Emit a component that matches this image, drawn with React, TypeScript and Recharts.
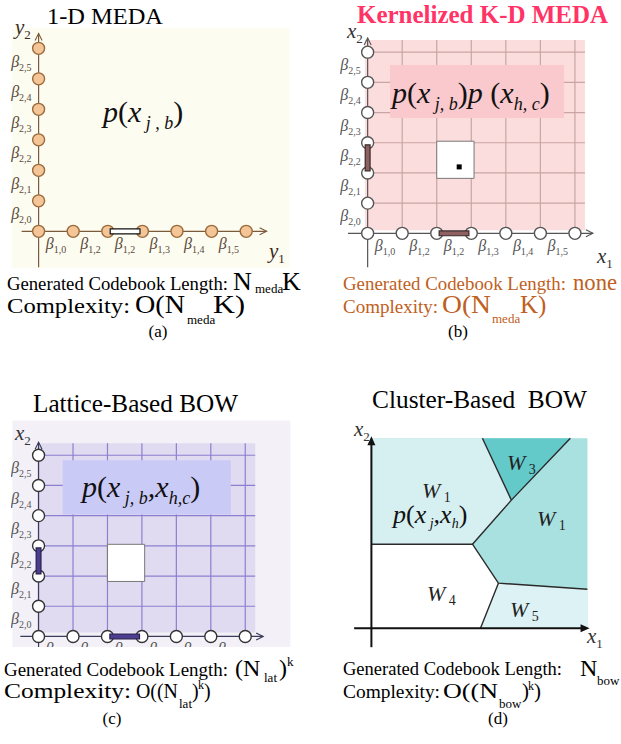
import React from "react";
import {
  ComposedChart,
  XAxis,
  YAxis,
  Scatter,
  Line,
  Area,
  ReferenceLine,
  ReferenceArea,
} from "recharts";

const SERIF = '"Liberation Serif", "Times New Roman", serif';

// lattice panels (a)-(c): bin edges on each axis
const gridIndex = [0, 1, 2, 3, 4, 5, 6];
const xBetaSubs = ["1,0", "1,2", "1,2", "1,3", "1,4", "1,5"];
const yBetaSubs = ["2,0", "2,1", "2,2", "2,3", "2,4", "2,5"];
const pickedBin = [2, 3];
const kernelPoint = [{ x: 2.65, y: 2.2 }];

// cluster panel (d): cell boundaries, feature box is 0..100 on both axes
const w4Top = [
  { x: 0, y: 44.2 },
  { x: 46.8, y: 44.2 },
  { x: 58.8, y: 23.7 },
];
const w5Top = [
  { x: 50.5, y: 0 },
  { x: 58.8, y: 23.7 },
  { x: 100, y: 20.5 },
];
const w1Bottom = [
  { x: 0, y: 44.2 },
  { x: 46.8, y: 44.2 },
  { x: 64.8, y: 67.4 },
  { x: 92.1, y: 100 },
];
const w3Bottom = [
  { x: 51.4, y: 100 },
  { x: 64.8, y: 67.4 },
  { x: 92.1, y: 100 },
];
const cellEdges = [
  [
    { x: 51.4, y: 100 },
    { x: 64.8, y: 67.4 },
  ],
  [
    { x: 92.1, y: 100 },
    { x: 64.8, y: 67.4 },
    { x: 46.8, y: 44.2 },
  ],
  [
    { x: 0, y: 44.2 },
    { x: 46.8, y: 44.2 },
    { x: 58.8, y: 23.7 },
    { x: 100, y: 20.5 },
  ],
  [
    { x: 58.8, y: 23.7 },
    { x: 50.5, y: 0 },
  ],
];

const panelA = {
  ox: 39, oy: 231, sx: 34.6, sy: 30.5,
  xd: [-1, 7.5], yd: [-1.5, 6.7],
  axisX: [-0.49, 6.59], axisY: [-1.18, 6.49],
  frame: { x: [-0.78, 7.25], y: [-1.21, 6.66], fill: "#fdfcf1" },
  axisColor: "#7c5b3b", dotFill: "#f3c597", dotStroke: "#9c6b3c",
  labelColor: "#5a4a3a",
  bar: { fill: "#ffffff", stroke: "#111" },
};

const panelB = {
  ox: 367.7, oy: 233.3, sx: 34.55, sy: 30.2,
  xd: [-0.8, 6.9], yd: [-1.5, 6.7],
  axisX: [-0.57, 6.52], axisY: [-1.12, 6.47],
  plot: { x: [-0.08, 6.29], y: [0.1, 6.4], fill: "#fcdddd", grid: "#c9a5a5" },
  box: { x: [0.65, 5.68], y: [3.82, 5.57], fill: "#f9c9cd" },
  square: true, kernel: true,
  axisColor: "#555", dotFill: "#ffffff", dotStroke: "#555",
  labelColor: "#555",
  bar: { fill: "#8f6060", stroke: "#3a2a2a", vertical: true },
};

const panelC = {
  ox: 38.3, oy: 636, sx: 34.45, sy: 30.2,
  xd: [-0.8, 7.35], yd: [-0.36, 7.2],
  axisX: [-0.53, 6.52], axisY: [-0.4, 6.43],
  frame: { x: [-0.76, 7.31], y: [-0.4, 7.15], fill: "#f3f1f7" },
  plot: { x: [-0.04, 6.29], y: [0.13, 6.4], fill: "#e0dbf0", grid: "#8b80d0" },
  box: { x: [0.7, 5.58], y: [4.04, 5.83], fill: "#cacaf6" },
  square: true,
  axisColor: "#3a3a5a", dotFill: "#ffffff", dotStroke: "#333",
  labelColor: "#555",
  bar: { fill: "#4b3d8f", stroke: "#2a2050", vertical: true },
};

const circleShape = (fill, stroke) => (props) => (
  <circle cx={props.cx} cy={props.cy} r={6} fill={fill} stroke={stroke} strokeWidth={1.4} />
);

const openArrow = (color) => (props) => {
  const { cx, cy, payload } = props;
  const d =
    payload.dir === "r"
      ? `M${cx - 7},${cy - 3.5}L${cx},${cy}L${cx - 7},${cy + 3.5}`
      : `M${cx - 3.5},${cy + 7}L${cx},${cy}L${cx + 3.5},${cy + 7}`;
  return <path d={d} fill="none" stroke={color} strokeWidth={1.1} />;
};

const solidArrow = (props) => {
  const { cx, cy, payload } = props;
  const d =
    payload.dir === "r"
      ? `M${cx},${cy}L${cx - 9},${cy - 4}L${cx - 9},${cy + 4}Z`
      : `M${cx},${cy}L${cx - 4},${cy + 9}L${cx + 4},${cy + 9}Z`;
  return <path d={d} fill="#111" />;
};

const betaX = (color) => (props) => (
  <text x={props.cx} y={props.cy + 18} textAnchor="middle" fontFamily={SERIF} fill={color}>
    <tspan fontSize={16} fontStyle="italic">β</tspan>
    <tspan fontSize={10} dy={4}>{props.payload.sub}</tspan>
  </text>
);

const betaY = (color) => (props) => (
  <text x={props.cx - 7} y={props.cy + 3} textAnchor="end" fontFamily={SERIF} fill={color}>
    <tspan fontSize={16} fontStyle="italic">β</tspan>
    <tspan fontSize={10} dy={4}>{props.payload.sub}</tspan>
  </text>
);

const kernelShape = (props) => (
  <rect x={props.cx - 2.5} y={props.cy - 2.5} width={5} height={5} fill="#000" />
);

function LatticeChart({ p }) {
  const width = (p.xd[1] - p.xd[0]) * p.sx;
  const height = (p.yd[1] - p.yd[0]) * p.sy;
  const left = p.ox + p.xd[0] * p.sx;
  const top = p.oy - p.yd[1] * p.sy;
  const dots = [
    ...gridIndex.map((i) => ({ x: i, y: 0 })),
    ...gridIndex.slice(1).map((i) => ({ x: 0, y: i })),
  ];
  const xLabels = xBetaSubs.map((s, i) => ({ x: i + 0.5, y: 0, sub: s }));
  const yLabels = yBetaSubs.map((s, i) => ({ x: 0, y: i + 0.5, sub: s }));
  const arrows = [
    { x: p.axisX[1], y: 0, dir: "r" },
    { x: 0, y: p.axisY[1], dir: "u" },
  ];
  const [b0, b1] = pickedBin;

  return (
    <div style={{ position: "absolute", left, top, width, height, overflow: "hidden" }}>
      <ComposedChart width={width} height={height} margin={{ top: 0, right: 0, bottom: 0, left: 0 }}>
        <XAxis type="number" dataKey="x" domain={p.xd} hide allowDataOverflow />
        <YAxis type="number" dataKey="y" domain={p.yd} hide allowDataOverflow />
        {p.frame && (
          <ReferenceArea
            x1={p.frame.x[0]} x2={p.frame.x[1]} y1={p.frame.y[0]} y2={p.frame.y[1]}
            fill={p.frame.fill} fillOpacity={1} stroke="none" ifOverflow="visible" zIndex={10}
          />
        )}
        {p.plot && (
          <ReferenceArea
            x1={p.plot.x[0]} x2={p.plot.x[1]} y1={p.plot.y[0]} y2={p.plot.y[1]}
            fill={p.plot.fill} fillOpacity={1} stroke="none" ifOverflow="visible" zIndex={20}
          />
        )}
        {p.plot &&
          gridIndex.slice(1).map((i) => (
            <ReferenceLine
              key={`v${i}`}
              segment={[{ x: i, y: 0 }, { x: i, y: p.plot.y[1] }]}
              stroke={p.plot.grid} strokeWidth={1.2} ifOverflow="visible" zIndex={30}
            />
          ))}
        {p.plot &&
          gridIndex.slice(1).map((i) => (
            <ReferenceLine
              key={`h${i}`}
              segment={[{ x: 0, y: i }, { x: p.plot.x[1], y: i }]}
              stroke={p.plot.grid} strokeWidth={1.2} ifOverflow="visible" zIndex={30}
            />
          ))}
        {p.box && (
          <ReferenceArea
            x1={p.box.x[0]} x2={p.box.x[1]} y1={p.box.y[0]} y2={p.box.y[1]}
            fill={p.box.fill} fillOpacity={1} stroke="none" ifOverflow="visible" zIndex={40}
          />
        )}
        {p.square && (
          <ReferenceArea
            x1={b0} x2={b1 + 0.08} y1={b0 - 0.18} y2={b1 + 0.05}
            fill="#ffffff" fillOpacity={1} stroke="#777" strokeWidth={1} ifOverflow="visible" zIndex={45}
          />
        )}
        <ReferenceLine
          segment={[{ x: p.axisX[0], y: 0 }, { x: p.axisX[1], y: 0 }]}
          stroke={p.axisColor} strokeWidth={1.2} ifOverflow="visible" zIndex={500}
        />
        <ReferenceLine
          segment={[{ x: 0, y: p.axisY[0] }, { x: 0, y: p.axisY[1] }]}
          stroke={p.axisColor} strokeWidth={1.2} ifOverflow="visible" zIndex={500}
        />
        <Scatter data={arrows} shape={openArrow(p.axisColor)} isAnimationActive={false} zIndex={550} />
        <Scatter data={dots} shape={circleShape(p.dotFill, p.dotStroke)} isAnimationActive={false} zIndex={600} />
        <Scatter data={xLabels} shape={betaX(p.labelColor)} isAnimationActive={false} zIndex={650} />
        <Scatter data={yLabels} shape={betaY(p.labelColor)} isAnimationActive={false} zIndex={650} />
        {p.kernel && <Scatter data={kernelPoint} shape={kernelShape} isAnimationActive={false} zIndex={660} />}
        <ReferenceArea
          x1={b0 + 0.07} x2={b1 - 0.07} y1={-0.08} y2={0.08}
          fill={p.bar.fill} fillOpacity={1} stroke={p.bar.stroke} strokeWidth={1.2} ifOverflow="visible" zIndex={700}
        />
        {p.bar.vertical && (
          <ReferenceArea
            x1={-0.07} x2={0.07} y1={b0 + 0.07} y2={b1 - 0.07}
            fill={p.bar.fill} fillOpacity={1} stroke={p.bar.stroke} strokeWidth={1.2} ifOverflow="visible" zIndex={700}
          />
        )}
      </ComposedChart>
    </div>
  );
}

const W1L = "#d6eff1";
const W1R = "#a9e0e0";
const W3 = "#63c9c9";
const W5 = "#dcf2f4";

function ClusterChart() {
  const ox = 371, oy = 628, sx = 2.16, sy = 1.9;
  const xd = [-15, 106];
  const yd = [-12, 108];
  const width = (xd[1] - xd[0]) * sx;
  const height = (yd[1] - yd[0]) * sy;
  const left = ox + xd[0] * sx;
  const top = oy - yd[1] * sy;
  const arrows = [
    { x: 101, y: 0, dir: "r" },
    { x: 0, y: 101, dir: "u" },
  ];
  return (
    <div style={{ position: "absolute", left, top, width, height }}>
      <ComposedChart width={width} height={height} margin={{ top: 0, right: 0, bottom: 0, left: 0 }}>
        <XAxis type="number" dataKey="x" domain={xd} hide allowDataOverflow />
        <YAxis type="number" dataKey="y" domain={yd} hide allowDataOverflow />
        <ReferenceArea x1={0} x2={100} y1={0} y2={100} fill={W1R} fillOpacity={1} stroke="none" zIndex={10} />
        <Area data={w4Top} dataKey="y" type="linear" baseValue={0} fill="#ffffff" fillOpacity={1} stroke="none" dot={false} activeDot={false} isAnimationActive={false} zIndex={100} />
        <Area data={w5Top} dataKey="y" type="linear" baseValue={0} fill={W5} fillOpacity={1} stroke="none" dot={false} activeDot={false} isAnimationActive={false} zIndex={100} />
        <Area data={w1Bottom} dataKey="y" type="linear" baseValue={100} fill={W1L} fillOpacity={1} stroke="none" dot={false} activeDot={false} isAnimationActive={false} zIndex={100} />
        <Area data={w3Bottom} dataKey="y" type="linear" baseValue={100} fill={W3} fillOpacity={1} stroke="none" dot={false} activeDot={false} isAnimationActive={false} zIndex={100} />
        {cellEdges.map((edge, i) => (
          <Line key={i} data={edge} dataKey="y" type="linear" stroke="#2a2a2a" strokeWidth={1.4} dot={false} activeDot={false} isAnimationActive={false} zIndex={400} />
        ))}
        <ReferenceLine segment={[{ x: -8, y: 0 }, { x: 98, y: 0 }]} stroke="#111" strokeWidth={2} ifOverflow="visible" zIndex={500} />
        <ReferenceLine segment={[{ x: 0, y: -10 }, { x: 0, y: 97 }]} stroke="#111" strokeWidth={2} ifOverflow="visible" zIndex={500} />
        <Scatter data={arrows} shape={solidArrow} isAnimationActive={false} zIndex={600} />
      </ComposedChart>
    </div>
  );
}

function Txt({ x, y, fs, len, children, ...rest }: any) {
  return (
    <text
      x={x}
      y={y}
      fontSize={fs}
      fontFamily={SERIF}
      textLength={len}
      lengthAdjust={len ? "spacingAndGlyphs" : undefined}
      {...rest}
    >
      {children}
    </text>
  );
}

function AxisName({ x, y, name, sub, color = "#333" }: any) {
  return (
    <text x={x} y={y} fontFamily={SERIF} fill={color}>
      <tspan fontSize={21} fontStyle="italic">{name}</tspan>
      <tspan fontSize={13} dy={5}>{sub}</tspan>
    </text>
  );
}

function CellName({ x, y, sub }: any) {
  return (
    <text x={x} y={y} fontFamily={SERIF} fill="#222">
      <tspan fontSize={22} fontStyle="italic">W</tspan>
      <tspan fontSize={14} dy={4}> {sub}</tspan>
    </text>
  );
}

function Overlay() {
  const orange = "#c0601e";
  return (
    <svg width={621} height={744} style={{ position: "absolute", left: 0, top: 0 }}>
      {/* titles */}
      <Txt x={47} y={24} fs={24} len={116}>1-D MEDA</Txt>
      <Txt x={357} y={23} fs={25} len={251} fontWeight="bold" fill="#ff3366">Kernelized K-D MEDA</Txt>
      <Txt x={33} y={412} fs={25} len={205}>Lattice-Based BOW</Txt>
      <Txt x={372} y={408} fs={25} len={215}>{"Cluster-Based\u00a0 BOW"}</Txt>

      {/* axis names */}
      <AxisName x={15} y={34} name="y" sub="2" color="#3a2a1a" />
      <AxisName x={269} y={258} name="y" sub="1" color="#3a2a1a" />
      <AxisName x={347} y={38} name="x" sub="2" />
      <AxisName x={597} y={263} name="x" sub="1" />
      <AxisName x={15} y={440} name="x" sub="2" />
      <AxisName x={354} y={436} name="x" sub="2" />
      <AxisName x={587} y={643} name="x" sub="1" />

      {/* densities */}
      <text x={103} y={122} fontFamily={SERIF} fontSize={30} fontStyle="italic" fill="#111">
        p<tspan fontStyle="normal">(</tspan>x<tspan fontSize={18} dy={7}> j , b</tspan>
        <tspan dy={-7} fontStyle="normal">)</tspan>
      </text>
      <text x={392} y={103} fontFamily={SERIF} fontSize={30} fontStyle="italic" fill="#111">
        p<tspan fontStyle="normal">(</tspan>x<tspan fontSize={18} dy={7}> j, b</tspan>
        <tspan dy={-7} fontStyle="normal">)</tspan>p <tspan fontStyle="normal">(</tspan>x
        <tspan fontSize={18} dy={7}>h, c</tspan>
        <tspan dy={-7} fontStyle="normal">)</tspan>
      </text>
      <text x={82} y={497} fontFamily={SERIF} fontSize={30} fontStyle="italic" fill="#111">
        p<tspan fontStyle="normal">(</tspan>x<tspan fontSize={18} dy={7}> j, b</tspan>
        <tspan dy={-7}>,</tspan>x<tspan fontSize={18} dy={7}>h,c</tspan>
        <tspan dy={-7} fontStyle="normal">)</tspan>
      </text>
      <text x={393} y={523} fontFamily={SERIF} fontSize={26} fontStyle="italic" fill="#111">
        p<tspan fontStyle="normal">(</tspan>x<tspan fontSize={14} dy={5}> j</tspan>
        <tspan dy={-5}>,</tspan>x<tspan fontSize={14} dy={5}>h</tspan>
        <tspan dy={-5} fontStyle="normal">)</tspan>
      </text>

      {/* cluster names */}
      <CellName x={422} y={498} sub="1" />
      <CellName x={507} y={470} sub="3" />
      <CellName x={537} y={526} sub="1" />
      <CellName x={427} y={601} sub="4" />
      <CellName x={510} y={617} sub="5" />

      {/* captions (a) */}
      <Txt x={7} y={290} fs={19} len={221}>Generated Codebook Length:</Txt>
      <Txt x={233} y={290} fs={26}>N</Txt>
      <Txt x={255} y={293} fs={13}>meda</Txt>
      <Txt x={282} y={290} fs={26}>K</Txt>
      <Txt x={7} y={313} fs={22} len={123}>Complexity:</Txt>
      <Txt x={135} y={313} fs={25} len={50}>O(N</Txt>
      <Txt x={187} y={324} fs={13}>meda</Txt>
      <Txt x={213} y={313} fs={25} len={32}>K)</Txt>
      <Txt x={158} y={337} fs={17} textAnchor="middle">(a)</Txt>

      {/* captions (b) */}
      <Txt x={343} y={290} fs={19} len={223} fill={orange}>Generated Codebook Length:</Txt>
      <Txt x={573} y={290} fs={24} len={44} fill={orange}>none</Txt>
      <Txt x={343} y={313} fs={19} len={95} fill={orange}>Complexity:</Txt>
      <Txt x={442} y={313} fs={25} len={49} fill={orange}>O(N</Txt>
      <Txt x={492} y={323} fs={13} fill={orange}>meda</Txt>
      <Txt x={520} y={313} fs={25} fill={orange}>K)</Txt>
      <Txt x={458} y={337} fs={17} textAnchor="middle">(b)</Txt>

      {/* captions (c) */}
      <Txt x={4} y={676} fs={19} len={224}>Generated Codebook Length:</Txt>
      <Txt x={235} y={676} fs={24}>(N</Txt>
      <Txt x={264} y={682} fs={13}>lat</Txt>
      <Txt x={279} y={676} fs={24}>)</Txt>
      <Txt x={287} y={666} fs={13}>k</Txt>
      <Txt x={4} y={698} fs={22} len={127}>Complexity:</Txt>
      <Txt x={136} y={698} fs={21} len={42}>O((N</Txt>
      <Txt x={179} y={708} fs={13}>lat</Txt>
      <Txt x={192} y={698} fs={20}>)</Txt>
      <Txt x={198} y={689} fs={12}>k</Txt>
      <Txt x={204} y={698} fs={20}>)</Txt>
      <Txt x={112} y={724} fs={17} textAnchor="middle">(c)</Txt>

      {/* captions (d) */}
      <Txt x={343} y={675} fs={19} len={219}>Generated Codebook Length:</Txt>
      <Txt x={580} y={676} fs={24}>N</Txt>
      <Txt x={597} y={685} fs={13}>bow</Txt>
      <Txt x={343} y={698} fs={19} len={97}>Complexity:</Txt>
      <Txt x={443} y={698} fs={21} len={55}>O((N</Txt>
      <Txt x={499} y={708} fs={13}>bow</Txt>
      <Txt x={522} y={698} fs={21}>)</Txt>
      <Txt x={528} y={690} fs={12}>k</Txt>
      <Txt x={534} y={698} fs={21}>)</Txt>
      <Txt x={498} y={724} fs={17} textAnchor="middle">(d)</Txt>
    </svg>
  );
}

export default function App() {
  return (
    <div
      style={{
        position: "absolute",
        left: 0,
        top: 0,
        width: 621,
        height: 744,
        background: "#ffffff",
        overflow: "hidden",
        fontFamily: SERIF,
      }}
    >
      <LatticeChart p={panelA} />
      <LatticeChart p={panelB} />
      <LatticeChart p={panelC} />
      <ClusterChart />
      <Overlay />
    </div>
  );
}
